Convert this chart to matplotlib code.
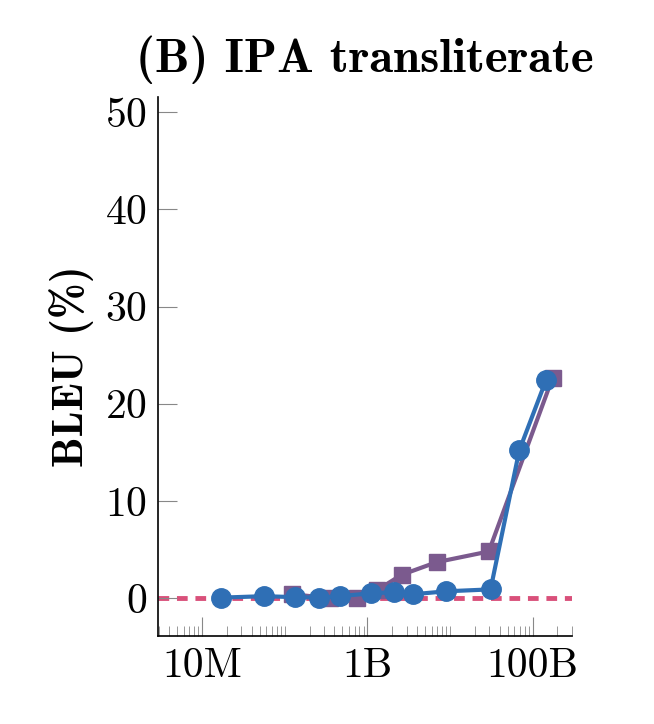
import numpy as np
import matplotlib.pyplot as plt
from matplotlib.ticker import FixedLocator, LogLocator, NullFormatter

plt.rcParams['font.family'] = ['cmr10']
plt.rcParams['mathtext.fontset'] = 'cm'
plt.rcParams['axes.formatter.use_mathtext'] = True

# model sizes (parameters) and BLEU scores
blue_x = [1.7e7, 5.6e7, 1.35e8, 2.6e8, 4.7e8, 1.1e9, 2.1e9, 3.6e9, 8.9e9, 3.1e10, 6.9e10, 1.45e11]
blue_y = [0.05, 0.2, 0.1, 0.05, 0.2, 0.5, 0.6, 0.4, 0.7, 0.9, 15.2, 22.4]
purple_x = [1.23e8, 3.5e8, 7.6e8, 1.3e9, 2.6e9, 6.9e9, 2.95e10, 1.75e11]
purple_y = [0.4, 0.0, 0.05, 0.8, 2.4, 3.7, 4.8, 22.7]
baseline = 0.0

fig = plt.figure(figsize=(6.54, 7.24), dpi=100)
ax = fig.add_axes([0.242, 0.1215, 0.633, 0.745])

ax.axhline(baseline, color='#d9507a', lw=3.5, ls=(0, (2.2, 1.6)), zorder=1)
ax.plot(blue_x, blue_y, '-o', color='#2f6fb5', lw=3, ms=14, zorder=3)
ax.plot(purple_x, purple_y, '-s', color='#7b5a8e', lw=3, ms=12, zorder=2)

ax.set_xscale('log')
ax.set_xlim(10**6.47, 10**11.48)
ax.set_ylim(-3.9, 51.6)
ax.xaxis.set_major_locator(FixedLocator([1e7, 1e9, 1e11]))
ax.set_xticklabels(['10M', '1B', '100B'])
ax.xaxis.set_minor_locator(LogLocator(base=10, subs=np.arange(1, 10), numticks=20))
ax.xaxis.set_minor_formatter(NullFormatter())
ax.set_yticks([0, 10, 20, 30, 40, 50])

for s in ['top', 'right']:
    ax.spines[s].set_visible(False)
ax.spines['left'].set_linewidth(1.2)
ax.spines['bottom'].set_linewidth(1.2)
ax.tick_params(axis='both', which='major', direction='in', labelsize=30, length=14, color='#888888', pad=8)
ax.tick_params(axis='x', which='minor', direction='in', length=7, color='#888888')

ax.set_ylabel('BLEU (%)', fontsize=31, family='cmb10', labelpad=8)
ax.set_title('(B) IPA transliterate', fontsize=35, family='cmb10', pad=18)

fig.savefig('out.png', dpi=100)
